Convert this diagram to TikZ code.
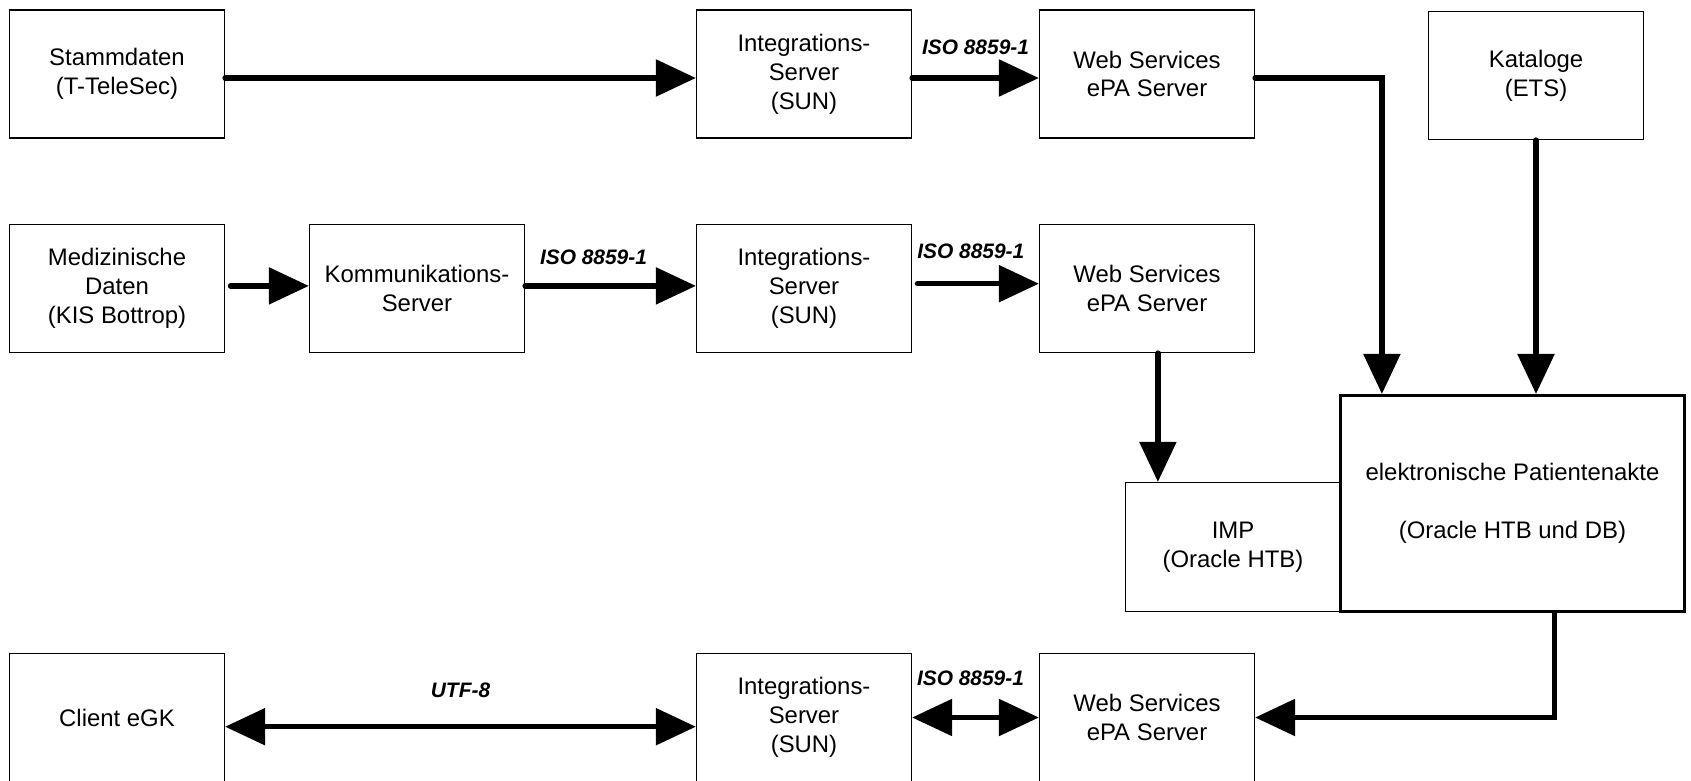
\documentclass[tikz,border=0pt]{standalone}
\usepackage{fontspec}
\setmainfont{Liberation Sans}
\usetikzlibrary{arrows.meta}

\begin{document}
\begin{tikzpicture}[x=0.5bp,y=-0.5bp]
\tikzstyle{every node}+=[inner sep=0pt]
\tikzset{
  box/.style={draw, line width=0.6bp, minimum width=107.5bp, minimum height=64bp, align=center, font=\fontsize{12}{14.5}\selectfont},
  bigbox/.style={box, line width=1.6bp, minimum width=172bp, minimum height=108bp},
  flow/.style={line width=2.7bp, line cap=round, -{Triangle[length=20bp,width=18bp]}},
  both/.style={line width=2.7bp, {Triangle[length=20bp,width=18bp]}-{Triangle[length=20bp,width=18bp]}},
  lbl/.style={font=\fontsize{10.5}{12}\selectfont\bfseries\itshape}
}
\useasboundingbox (0,0) rectangle (1691,781);
\node [box] (stamm) at (117,74) {Stammdaten\\(T-TeleSec)};
\node [box] (int1) at (804,74) {Integrations-\\Server\\(SUN)};
\node [box] (ws1) at (1147,74) {Web Services\\ePA Server};
\node [box] (kat) at (1536,75.5) {Kataloge\\(ETS)};
\node [box] (med) at (117,288.5) {Medizinische\\Daten\\(KIS Bottrop)};
\node [box] (komm) at (417,288.5) {Kommunikations-\\Server};
\node [box] (int2) at (804,288.5) {Integrations-\\Server\\(SUN)};
\node [box] (ws2) at (1147,288.5) {Web Services\\ePA Server};
\node [box, minimum height=64.5bp] (imp) at (1233,547) {IMP\\(Oracle HTB)};
\node [bigbox] (epa) at (1512.5,503.6) {elektronische Patientenakte\\[14.5bp](Oracle HTB und DB)};
\node [box] (client) at (117,717.5) {Client eGK};
\node [box] (int3) at (804,717.5) {Integrations-\\Server\\(SUN)};
\node [box] (ws3) at (1147,717.5) {Web Services\\ePA Server};
\draw [flow] ([yshift=-2bp]stamm.east) -- ([yshift=-2bp]int1.west);
\draw [flow] ([yshift=-2bp]int1.east) -- node [lbl, yshift=15.3bp] {ISO 8859-1} ([yshift=-2bp]ws1.west);
\draw [flow] ([yshift=-2bp]ws1.east) -| ([xshift=21.5bp]epa.north west);
\draw [flow] (kat.south) -- (kat.south |- epa.north);
\draw [flow] ([xshift=2.7bp,yshift=1.3bp]med.east) -- ([yshift=1.3bp]komm.west);
\draw [flow] ([yshift=1.3bp]komm.east) -- node [lbl, yshift=14.1bp, xshift=-8.5bp] {ISO 8859-1} ([yshift=1.3bp]int2.west);
\draw [flow] ([xshift=2.7bp,yshift=2.4bp]int2.east) -- node [lbl, yshift=16.2bp, xshift=-3.7bp] {ISO 8859-1} ([yshift=2.4bp]ws2.west);
\coordinate (impin) at ([xshift=16.5bp]imp.north west);
\draw [flow] (ws2.south -| impin) -- (impin);
\draw [flow] ([xshift=21bp]epa.south) |- (ws3.east);
\draw [both] ([yshift=-4.6bp]client.east) -- node [lbl, yshift=18.4bp] {UTF-8} ([yshift=-4.6bp]int3.west);
\draw [both] (int3.east) -- node [lbl, yshift=19.6bp, xshift=-2.5bp] {ISO 8859-1} (ws3.west);
\end{tikzpicture}
\end{document}
